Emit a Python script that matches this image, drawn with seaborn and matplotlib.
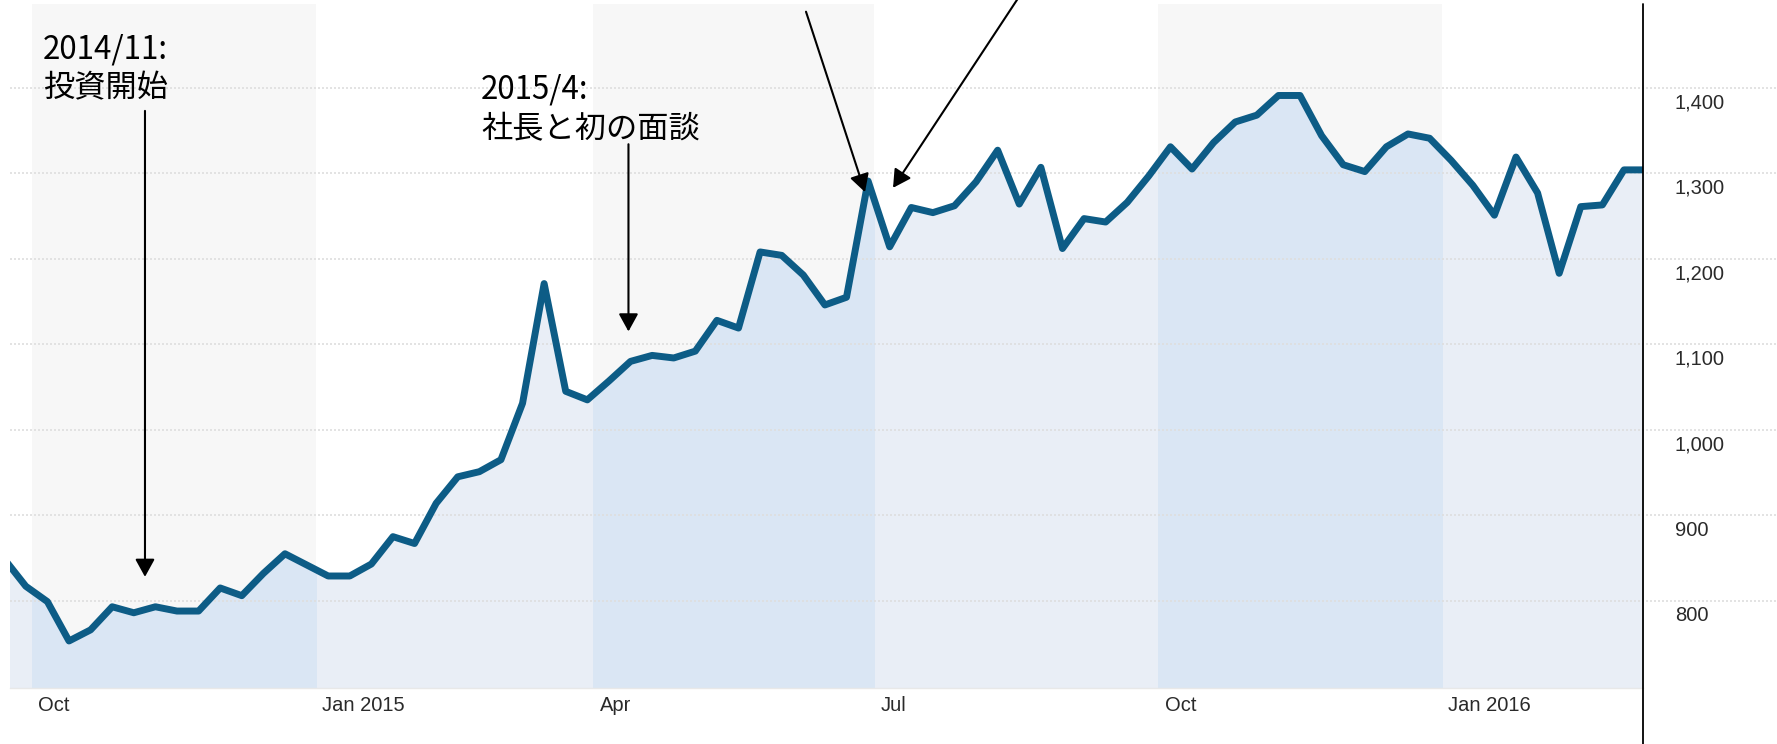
import pandas as pd
import matplotlib.pyplot as plt
import matplotlib.transforms as mtransforms
import seaborn as sns

sns.set_theme(style="white")
plt.rcParams["font.family"] = ["Liberation Sans", "Noto Sans CJK JP"]

# weekly closing prices
week_dates = [
    "2014-09-22", "2014-09-29", "2014-10-06", "2014-10-13", "2014-10-20", "2014-10-27",
    "2014-11-03", "2014-11-10", "2014-11-17", "2014-11-24", "2014-12-01", "2014-12-08",
    "2014-12-15", "2014-12-22", "2014-12-29",
    "2015-01-05", "2015-01-12", "2015-01-19", "2015-01-26", "2015-02-02", "2015-02-09",
    "2015-02-16", "2015-02-23", "2015-03-02", "2015-03-09", "2015-03-16", "2015-03-23",
    "2015-03-30", "2015-04-06", "2015-04-13", "2015-04-20", "2015-04-27", "2015-05-04",
    "2015-05-11", "2015-05-18", "2015-05-25", "2015-06-01", "2015-06-08", "2015-06-15",
    "2015-06-22", "2015-06-29", "2015-07-06", "2015-07-13", "2015-07-20", "2015-07-27",
    "2015-08-03", "2015-08-10", "2015-08-17", "2015-08-24", "2015-08-31", "2015-09-07",
    "2015-09-14", "2015-09-21", "2015-09-28", "2015-10-05", "2015-10-12", "2015-10-19",
    "2015-10-26", "2015-11-02", "2015-11-09", "2015-11-16", "2015-11-23", "2015-11-30",
    "2015-12-07", "2015-12-14", "2015-12-21", "2015-12-28",
    "2016-01-04", "2016-01-11", "2016-01-18", "2016-01-25", "2016-02-01", "2016-02-08",
    "2016-02-15", "2016-02-22", "2016-02-29", "2016-03-07",
]
price = [
    849, 817, 799, 753, 766, 793, 786, 793, 788, 788, 815, 806, 832, 855, 842,
    829, 829, 843, 875, 867, 914, 945, 951, 965, 1031, 1171, 1045, 1035, 1057, 1080,
    1087, 1084, 1092, 1128, 1119, 1208, 1204, 1181, 1146, 1155, 1291, 1214, 1260, 1254,
    1262, 1290, 1327, 1264, 1307, 1212, 1247, 1243, 1266, 1297, 1331, 1305, 1336, 1360,
    1368, 1391, 1391, 1344, 1310, 1302, 1331, 1346, 1341,
    1315, 1286, 1251, 1319, 1277, 1183, 1261, 1263, 1304, 1304,
]

band_starts = ["2014-10-01", "2015-04-01", "2015-10-01"]
band_ends = ["2015-01-01", "2015-07-01", "2016-01-01"]
tick_dates = ["2014-10-01", "2015-01-01", "2015-04-01", "2015-07-01", "2015-10-01", "2016-01-01"]
tick_labels = ["Oct", "Jan 2015", "Apr", "Jul", "Oct", "Jan 2016"]
y_ticks = [800, 900, 1000, 1100, 1200, 1300, 1400]

df = pd.DataFrame({"date": pd.to_datetime(week_dates), "price": price})

W, H = 1777, 744
fig = plt.figure(figsize=(W / 100, H / 100), dpi=100)
ax = fig.add_axes([10 / W, 56 / H, 1633 / W, 684 / H])

y_lo, y_hi = 698, 1498
x_lo, x_hi = pd.Timestamp("2014-09-23 21:00"), pd.Timestamp("2016-03-06 04:00")

line_color = "#0d5c86"

# background quarter bands + area fill (bluer inside the bands)
ax.fill_between(df["date"], df["price"], y_lo, color="#e9eef6", lw=0, zorder=1)
for s, e in zip(band_starts, band_ends):
    span = ax.axvspan(pd.Timestamp(s), pd.Timestamp(e), color="#f7f7f7", lw=0, zorder=0)
    inner = ax.fill_between(df["date"], df["price"], y_lo, color="#dae6f4", lw=0, zorder=1.1)
    inner.set_clip_path(span)

# dotted gridlines running out through the label area
for v in y_ticks:
    ax.axhline(v, xmin=0, xmax=(W - 10) / 1633, clip_on=False, color="#dedede",
               lw=1.2, ls=(0, (1.2, 1.2)), zorder=1.5)

sns.lineplot(data=df, x="date", y="price", color=line_color, linewidth=5, ax=ax, zorder=3)
for ln in ax.lines:
    ln.set_solid_joinstyle("round")

ax.set_xlim(x_lo, x_hi)
ax.set_ylim(y_lo, y_hi)

# right axis line reaching the bottom of the figure
ax.axvline(x_hi, ymin=-56 / 684, ymax=1, color="black", lw=1.3, clip_on=False, zorder=4)

for sp in ["top", "left", "right"]:
    ax.spines[sp].set_visible(False)
ax.spines["bottom"].set_color("#e8e8e8")
ax.spines["bottom"].set_linewidth(1)

ax.set_xticks(pd.to_datetime(tick_dates))
ax.set_xticklabels(tick_labels, ha="left")
ax.yaxis.tick_right()
ax.set_yticks(y_ticks)
ax.set_yticklabels([f"{v:,}" for v in y_ticks])
ax.tick_params(axis="both", length=0, labelsize=14.5, labelcolor="#2a2a2a")
ax.tick_params(axis="x", pad=6)
ax.tick_params(axis="y", pad=23)
ax.set_xlabel("")
ax.set_ylabel("")

for lab in ax.get_xticklabels():
    lab.set_transform(lab.get_transform() + mtransforms.ScaledTranslation(0.065, 0, fig.dpi_scale_trans))
for lab in ax.get_yticklabels():
    lab.set_transform(lab.get_transform() + mtransforms.ScaledTranslation(0, -0.13, fig.dpi_scale_trans))

# annotations
arrow_kw = dict(arrowstyle="-|>,head_length=0.4,head_width=0.22", mutation_scale=27,
                color="black", lw=1.5, shrinkA=0, shrinkB=0)
jp = ["Noto Sans CJK JP", "DejaVu Sans"]

ax.text(pd.Timestamp("2014-10-04 14:00"), 1422, "2014/11:\n投資開始", family=jp,
        fontsize=22.5, color="black", ha="left", va="center", linespacing=1.3, zorder=5)
ax.annotate("", xy=(pd.Timestamp("2014-11-06 15:00"), 828),
            xytext=(pd.Timestamp("2014-11-06 15:00"), 1373), arrowprops=arrow_kw,
            annotation_clip=False, zorder=5)

ax.text(pd.Timestamp("2015-02-23 12:00"), 1375, "2015/4:\n社長と初の面談", family=jp,
        fontsize=22.5, color="black", ha="left", va="center", linespacing=1.3, zorder=5)
ax.annotate("", xy=(pd.Timestamp("2015-04-12 08:00"), 1115),
            xytext=(pd.Timestamp("2015-04-12 08:00"), 1334), arrowprops=arrow_kw,
            annotation_clip=False, zorder=5)

ax.annotate("", xy=(pd.Timestamp("2015-06-28"), 1278),
            xytext=(pd.Timestamp("2015-06-08 21:00"), 1489), arrowprops=arrow_kw,
            annotation_clip=False, zorder=5)
ax.annotate("", xy=(pd.Timestamp("2015-07-07 02:00"), 1283),
            xytext=(pd.Timestamp("2015-08-20 12:00"), 1526), arrowprops=arrow_kw,
            annotation_clip=False, zorder=5)

fig.savefig("out.png", dpi=100, facecolor="white")
